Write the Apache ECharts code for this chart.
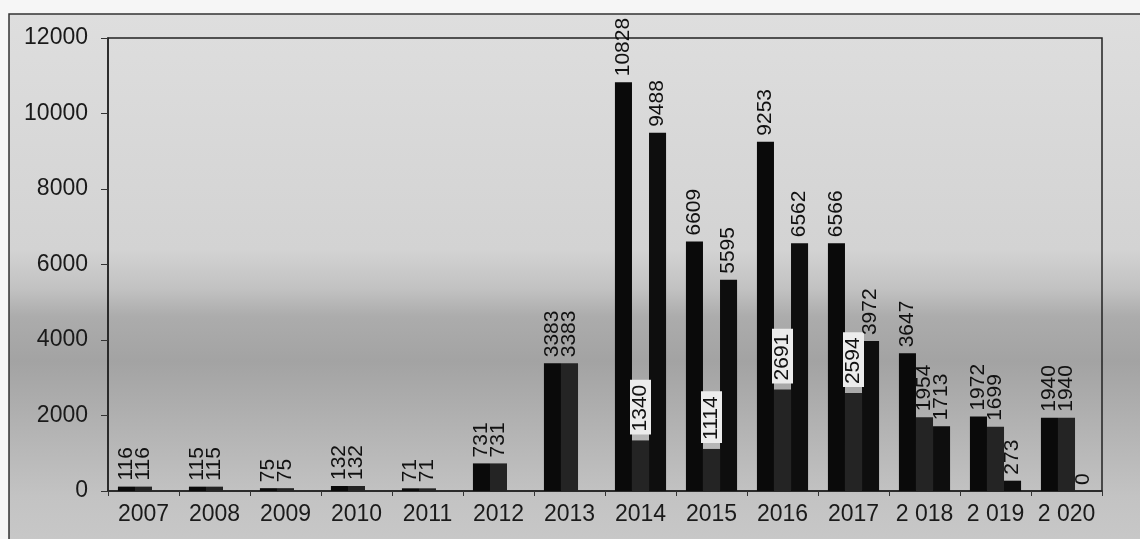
<!DOCTYPE html>
<html>
<head>
<meta charset="utf-8">
<script src="https://cdn.jsdelivr.net/npm/echarts@6/dist/echarts.min.js"></script>
<style>
html,body{margin:0;padding:0;background:#f6f6f6;}
#chart{width:1140px;height:539px;}
</style>
</head>
<body>
<div id="chart"></div>
<script>
const categories = ['2007','2008','2009','2010','2011','2012','2013','2014','2015','2016','2017','2 018','2 019','2 020'];
const seriesA = [116,115,75,132,71,731,3383,10828,6609,9253,6566,3647,1972,1940];
const seriesB = [116,115,75,132,71,731,3383,1340,1114,2691,2594,1954,1699,1940];
const seriesC = [null,null,null,null,null,null,null,9488,5595,6562,3972,1713,273,0];
const yTicks = [0,2000,4000,6000,8000,10000,12000];

const chart = echarts.init(document.getElementById('chart'));
const FONT = 'Liberation Sans, Arial, sans-serif';

const baseLabel = {
  show: true,
  position: 'top',
  rotate: 90,
  align: 'left',
  verticalAlign: 'middle',
  distance: 6,
  fontSize: 21,
  color: '#111',
  fontFamily: FONT
};

const dataB = seriesB.map((v, i) => {
  const a = seriesA[i], c = seriesC[i];
  if (c != null && v < a && v < c) {
    return { value: v, label: { backgroundColor: '#ececec', padding: [0, 5, 0, 3] } };
  }
  return v;
});

chart.setOption({
  animation: false,
  backgroundColor: 'transparent',
  textStyle: { fontFamily: FONT },
  graphic: [{
    type: 'rect',
    z: -10,
    silent: true,
    shape: { x: 9, y: 14, width: 1160, height: 560 },
    style: {
      stroke: '#333',
      lineWidth: 1.5,
      fill: {
        type: 'linear', x: 0, y: 0, x2: 0, y2: 1,
        colorStops: [
          { offset: 0, color: '#dedede' },
          { offset: 0.42, color: '#d3d3d3' },
          { offset: 0.49, color: '#c2c2c2' },
          { offset: 0.54, color: '#acacac' },
          { offset: 0.62, color: '#a3a3a3' },
          { offset: 0.74, color: '#b3b3b3' },
          { offset: 0.86, color: '#c3c3c3' },
          { offset: 1, color: '#cbcbcb' }
        ]
      }
    }
  }],
  grid: {
    left: 108, right: 38, top: 38, bottom: 48,
    show: true,
    borderColor: '#222',
    borderWidth: 1.5,
    backgroundColor: 'transparent'
  },
  xAxis: {
    type: 'category',
    data: categories,
    axisLine: { lineStyle: { color: '#222', width: 1.5 } },
    axisTick: { show: true, interval: 0, length: 5, lineStyle: { color: '#333' } },
    axisLabel: { interval: 0, fontSize: 23, color: '#1a1a1a', margin: 12 }
  },
  yAxis: {
    type: 'value',
    min: 0, max: 12000, interval: 2000,
    splitLine: { show: false },
    axisLine: { show: true, lineStyle: { color: '#222', width: 1.5 } },
    axisTick: { show: true, length: 7, lineStyle: { color: '#333' } },
    axisLabel: {
      fontSize: 23, color: '#1a1a1a', margin: 20,
      formatter: v => yTicks.includes(v) ? String(v) : ''
    }
  },
  series: [
    { name: 'A', type: 'bar', data: seriesA, barGap: '0%', barCategoryGap: '28%',
      itemStyle: { color: '#0a0a0a' }, label: baseLabel },
    { name: 'B', type: 'bar', data: dataB, barGap: '0%', barCategoryGap: '28%',
      itemStyle: { color: '#242424' }, label: baseLabel },
    { name: 'C', type: 'bar', data: seriesC, barGap: '0%', barCategoryGap: '28%',
      itemStyle: { color: '#0e0e0e' }, label: baseLabel }
  ]
});
</script>
</body>
</html>
